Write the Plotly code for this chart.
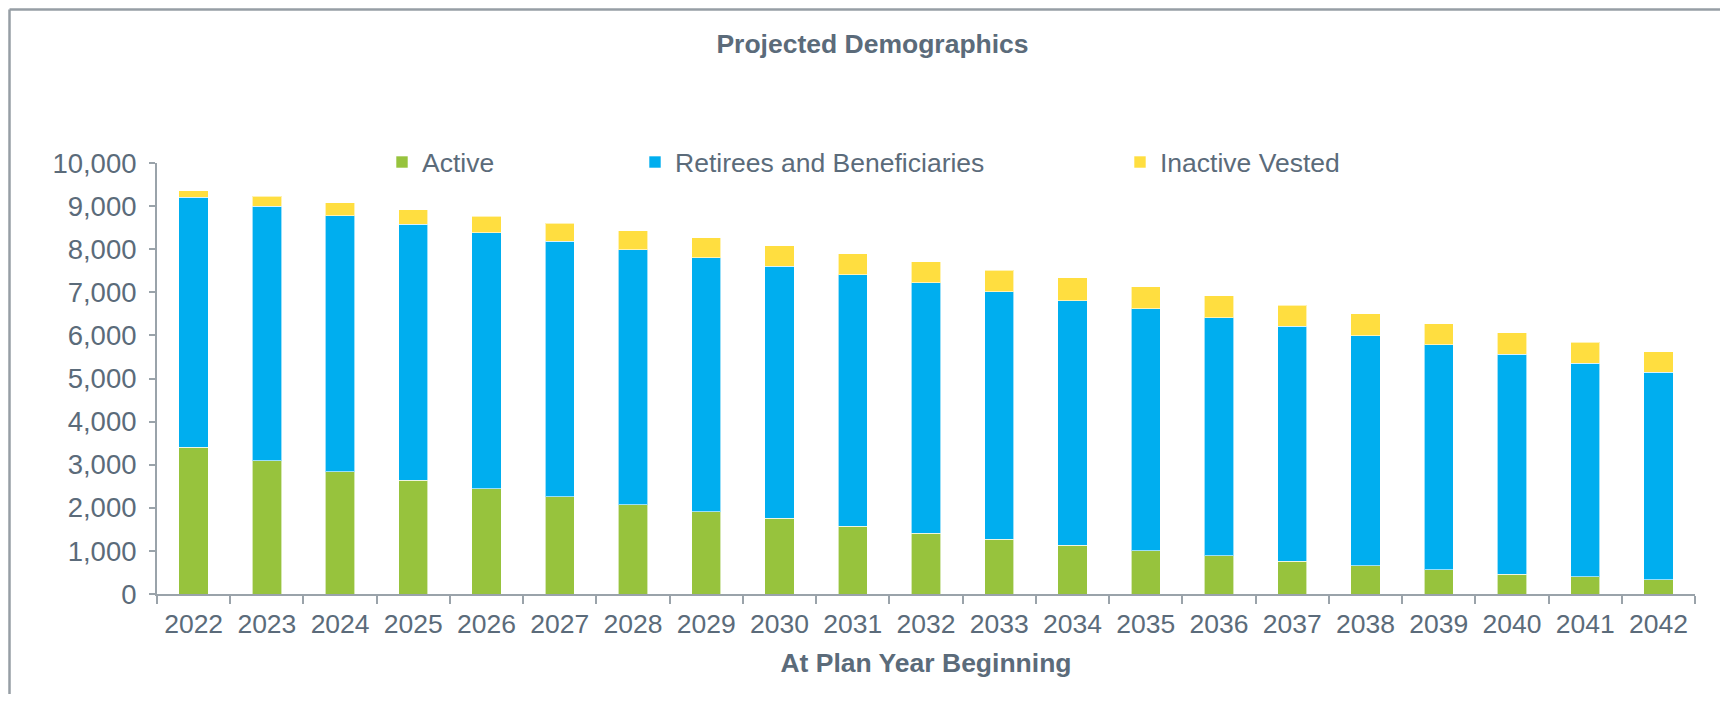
import plotly.graph_objects as go

years = [str(y) for y in range(2022, 2043)]
active = [3403, 3086, 2838, 2637, 2444, 2251, 2073, 1910, 1756, 1570, 1415,
          1276, 1137, 1005, 882, 758, 650, 557, 464, 402, 333]
retirees = [5800, 5908, 5940, 5940, 5932, 5932, 5916, 5886, 5846, 5839, 5801,
            5739, 5669, 5615, 5529, 5452, 5344, 5228, 5104, 4950, 4810]
inactive = [155, 232, 302, 340, 386, 425, 441, 464, 480, 487, 495,
            502, 526, 507, 511, 495, 503, 487, 495, 487, 480]

series_names = ["Active", "Retirees and Beneficiaries", "Inactive Vested"]
series_values = [active, retirees, inactive]
colors = ["#97c33d", "#00aeef", "#ffde40"]
legend_ids = ["legend", "legend2", "legend3"]

# page offset (body margin) -> figure pixels
OFF = 8
W, H = 1712, 686
plot_left, plot_right = 157 - OFF, 1695 - OFF
plot_top, plot_bottom = 162.7 - OFF, 593.7 - OFF
L, R = plot_left, W - plot_right
T, B = plot_top, H - plot_bottom
pw = plot_right - plot_left
ph = plot_bottom - plot_top

def pg_x(p):
    return (p - OFF - plot_left) / pw

def pg_y(p):
    return (plot_bottom - (p - OFF)) / ph

text_color = "#5b6b7a"
axis_color = "#9aa3aa"
border_color = "#969ea5"
font_family = "Liberation Sans, Arial, sans-serif"
FS = 26.5

fig = go.Figure()
for name, vals, col, lg in zip(series_names, series_values, colors, legend_ids):
    fig.add_trace(go.Bar(
        x=years, y=vals, name=name, legend=lg, showlegend=True,
        marker=dict(color=col, line=dict(color="rgba(255,255,255,0.6)", width=1)),
    ))

legend_text_px = [422, 675, 1160]
legend_common = dict(
    orientation="h", yanchor="middle", xanchor="left",
    font=dict(size=FS, color=text_color, family=font_family),
    bgcolor="rgba(0,0,0,0)", borderwidth=0, itemwidth=30, visible=True,
)
layout_legends = {}
for lg, tx in zip(legend_ids, legend_text_px):
    layout_legends[lg] = dict(x=pg_x(tx - 40), y=pg_y(162), **legend_common)

border_top = pg_y(OFF + 1.3)
border_left = pg_x(9.5)
shapes = [
    dict(type="line", xref="paper", yref="paper",
         x0=border_left, x1=pg_x(1760), y0=border_top, y1=border_top,
         line=dict(color=border_color, width=2.5), layer="below"),
    dict(type="line", xref="paper", yref="paper",
         x0=border_left, x1=border_left, y0=pg_y(760), y1=border_top,
         line=dict(color=border_color, width=2.5), layer="below"),
]

fig.update_layout(
    width=W, height=H,
    margin=dict(l=L, r=R, t=T, b=B, autoexpand=False),
    paper_bgcolor="white", plot_bgcolor="white",
    barmode="stack", bargap=0.6,
    showlegend=True,
    font=dict(family=font_family, color=text_color, size=FS),
    title=dict(
        text="<b>Projected Demographics</b>",
        x=pg_x(872.5), xanchor="center", xref="paper",
        y=1 - (44 - OFF) / H, yanchor="middle", yref="container",
        font=dict(size=FS, color=text_color, family=font_family),
    ),
    xaxis=dict(
        type="category", showline=True, linecolor=axis_color, linewidth=2,
        ticks="outside", tickson="boundaries", ticklen=8, tickcolor=axis_color,
        tickwidth=2, showgrid=False, ticklabelstandoff=5,
        tickfont=dict(size=FS, color=text_color),
        title=dict(text="<b>At Plan Year Beginning</b>", standoff=16,
                   font=dict(size=FS, color=text_color)),
    ),
    yaxis=dict(
        range=[0, 10000], tickvals=list(range(0, 10001, 1000)),
        tickformat=",d", showline=True, linecolor=axis_color, linewidth=2,
        ticks="outside", ticklen=6, tickcolor=axis_color, tickwidth=2,
        showgrid=False, zeroline=False, ticklabelstandoff=7,
        tickfont=dict(size=27.5, color=text_color),
    ),
    shapes=shapes,
    **layout_legends,
)

fig.write_html("out.html")
